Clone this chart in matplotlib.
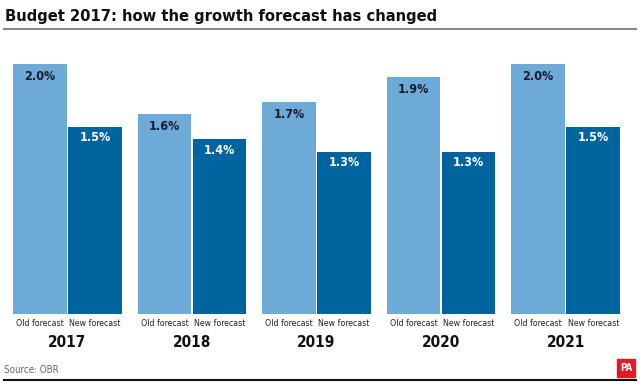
import matplotlib.pyplot as plt
import numpy as np
from matplotlib.patches import Rectangle

# data

years = ['2017', '2018', '2019', '2020', '2021']
old_forecast = [2.0, 1.6, 1.7, 1.9, 2.0]
new_forecast = [1.5, 1.4, 1.3, 1.3, 1.5]

OLD_COLOR = '#6eaad8'
NEW_COLOR = '#00659f'
COND = dict(family='DejaVu Sans', fontstretch='condensed')

# plot

fig = plt.figure(figsize=(6.4, 3.84), dpi=100)
ax = fig.add_axes([13 / 640, 1 - 314 / 384, 607 / 640, 250 / 384])

x = np.arange(len(years))
width = 0.43
offset = 0.221
ax.bar(x - offset, old_forecast, width, color=OLD_COLOR)
ax.bar(x + offset, new_forecast, width, color=NEW_COLOR)

for i, (o, n) in enumerate(zip(old_forecast, new_forecast)):
    ax.text(x[i] - offset, o - 0.1, f'{o:.1f}%', ha='center', va='center',
            fontsize=9, fontweight='bold', color='#1a1a2e', **COND)
    ax.text(x[i] + offset, n - 0.09, f'{n:.1f}%', ha='center', va='center',
            fontsize=9, fontweight='bold', color='white', **COND)
    ax.text(x[i] - offset, -0.075, 'Old forecast', ha='center', va='center',
            fontsize=6.3, color='#222222', **COND)
    ax.text(x[i] + offset, -0.075, 'New forecast', ha='center', va='center',
            fontsize=6.3, color='#222222', **COND)
    ax.text(x[i], -0.225, years[i], ha='center', va='center',
            fontsize=11, fontweight='bold', color='#111111', **COND)

ax.set_xlim(-0.436, len(years) - 1 + 0.436)
ax.set_ylim(0, 2.0)
ax.axis('off')

fig.text(5 / 640, 1 - 17 / 384, 'Budget 2017: how the growth forecast has changed',
         ha='left', va='center', fontsize=11.8, fontweight='bold', color='#111111', **COND)
fig.add_artist(plt.Line2D([4 / 640, 636 / 640], [1 - 29 / 384] * 2, color='#888888', lw=1.5))

fig.text(4 / 640, 1 - 370 / 384, 'Source: OBR', ha='left', va='center',
         fontsize=7, color='#666666', **COND)
fig.add_artist(plt.Line2D([4 / 640, 636 / 640], [1 - 380 / 384] * 2, color='#111111', lw=1.5))
fig.add_artist(Rectangle((617 / 640, 1 - 377 / 384), 18 / 640, 18 / 384,
                         transform=fig.transFigure, color='#e01b22'))
fig.text(626 / 640, 1 - 368 / 384, 'PA', ha='center', va='center',
         fontsize=7, fontweight='bold', color='white', **COND)

fig.savefig('out.png', dpi=100)
